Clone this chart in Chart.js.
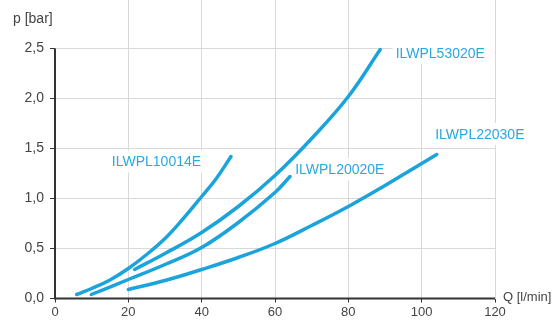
<!DOCTYPE html>
<html>
<head>
<meta charset="utf-8">
<script src="https://cdn.jsdelivr.net/npm/chart.js@4"></script>
<style>
  body { margin: 0; background: #fff; }
  #wrap { width: 556px; height: 320px; }
</style>
</head>
<body>
<div id="wrap"><canvas id="chart"></canvas></div>
<script>
// flow Q [l/min] and pressure p [bar] per valve type
const q10014 = [5.9, 10, 15, 20, 25, 30, 35, 40, 44, 48];
const p10014 = [0.04, 0.10, 0.185, 0.30, 0.44, 0.60, 0.80, 1.02, 1.20, 1.42];

const q20020 = [9.9, 20, 30, 40, 50, 60, 64.1];
const p20020 = [0.04, 0.19, 0.34, 0.51, 0.76, 1.06, 1.22];

const q53020 = [21.7, 30, 40, 50, 60, 70, 80, 88.7];
const p53020 = [0.29, 0.45, 0.66, 0.92, 1.23, 1.60, 2.02, 2.49];

const q22030 = [20, 30, 40, 50, 60, 70, 80, 90, 100, 104.1];
const p22030 = [0.09, 0.18, 0.29, 0.41, 0.55, 0.73, 0.92, 1.13, 1.35, 1.44];

const seriesNames = ['ILWPL10014E', 'ILWPL20020E', 'ILWPL53020E', 'ILWPL22030E'];
const xTicks = [0, 20, 40, 60, 80, 100, 120];
const yTicks = [0, 0.5, 1.0, 1.5, 2.0, 2.5];

// where the curve names sit (data coords, left edge / middle)
const labelPos = [
  { q: 15.5, p: 1.37 },
  { q: 65.5, p: 1.29 },
  { q: 92.9, p: 2.455, padTop: 50, padRight: 10 },
  { q: 103.7, p: 1.645 }
];

const blue = '#1ba3db';
const labelBlue = '#2aa8e0';
const font = '"Liberation Sans", Arial, sans-serif';

function toPoints(xs, ys) {
  return xs.map((x, i) => ({ x: x, y: ys[i] }));
}

const seriesData = [
  toPoints(q10014, p10014),
  toPoints(q20020, p20020),
  toPoints(q53020, p53020),
  toPoints(q22030, p22030)
];

const extras = {
  id: 'extras',
  beforeDatasetsDraw(chart) {
    const ctx = chart.ctx;
    const xs = chart.scales.x, ys = chart.scales.y;
    ctx.save();
    ctx.font = '14px ' + font;
    ctx.textBaseline = 'middle';
    ctx.textAlign = 'left';
    labelPos.forEach((lp, i) => {
      const x = xs.getPixelForValue(lp.q);
      const y = ys.getPixelForValue(lp.p);
      const w = ctx.measureText(seriesNames[i]).width;
      const pt = lp.padTop || 3, pr = lp.padRight || 3;
      ctx.fillStyle = '#fff';
      ctx.fillRect(x - 3, y - 8 - pt, w + 3 + pr, 16 + pt + 3);
      ctx.fillStyle = labelBlue;
      ctx.fillText(seriesNames[i], x, y + 1);
    });
    // axes
    ctx.strokeStyle = '#333';
    ctx.lineWidth = 2;
    const x0 = xs.getPixelForValue(0);
    const y0 = ys.getPixelForValue(0);
    ctx.beginPath();
    ctx.moveTo(x0, ys.getPixelForValue(2.5));
    ctx.lineTo(x0, y0);
    ctx.lineTo(xs.getPixelForValue(120), y0);
    ctx.stroke();
    ctx.restore();
  },
  afterDraw(chart) {
    const ctx = chart.ctx;
    ctx.save();
    ctx.fillStyle = '#444';
    ctx.textBaseline = 'middle';
    ctx.font = '14px ' + font;
    ctx.fillText('p [bar]', 13, 19);
    ctx.font = '13px ' + font;
    ctx.fillText('Q [l/min]', 503, chart.scales.y.getPixelForValue(0) - 1);
    ctx.restore();
  }
};

new Chart(document.getElementById('chart'), {
  type: 'scatter',
  data: {
    datasets: seriesData.map((pts, i) => ({
      label: seriesNames[i],
      data: pts,
      showLine: true,
      borderColor: blue,
      borderWidth: 3.5,
      borderCapStyle: 'round',
      tension: 0.4,
      pointRadius: 0
    }))
  },
  options: {
    responsive: true,
    maintainAspectRatio: false,
    animation: false,
    layout: { padding: { left: 0, right: 61, top: 0, bottom: 0 } },
    plugins: { legend: { display: false }, tooltip: { enabled: false } },
    scales: {
      x: {
        type: 'linear',
        min: 0,
        max: 120,
        afterBuildTicks: s => { s.ticks = xTicks.map(v => ({ value: v })); },
        afterFit: s => { s.height = 21.5; s.paddingLeft = 0; s.paddingRight = 0; },
        border: { display: false },
        grid: {
          color: c => (c.tick && c.tick.value === 0) ? 'rgba(0,0,0,0)' : '#d9d9d9',
          tickColor: '#333',
          tickLength: 4,
          lineWidth: 1
        },
        ticks: {
          color: '#444',
          padding: 2,
          maxRotation: 0,
          font: { family: font, size: 13 }
        }
      },
      y: {
        type: 'linear',
        min: 0,
        max: 2.985,
        afterBuildTicks: s => { s.ticks = yTicks.map(v => ({ value: v })); },
        afterFit: s => { s.width = 55; s.paddingTop = 0; s.paddingBottom = 0; },
        border: { display: false },
        grid: {
          color: '#d9d9d9',
          tickColor: '#333',
          tickLength: 5,
          lineWidth: 1
        },
        ticks: {
          color: '#444',
          padding: 6,
          font: { family: font, size: 14 },
          callback: v => v.toFixed(1).replace('.', ',')
        }
      }
    }
  },
  plugins: [extras]
});
</script>
</body>
</html>
